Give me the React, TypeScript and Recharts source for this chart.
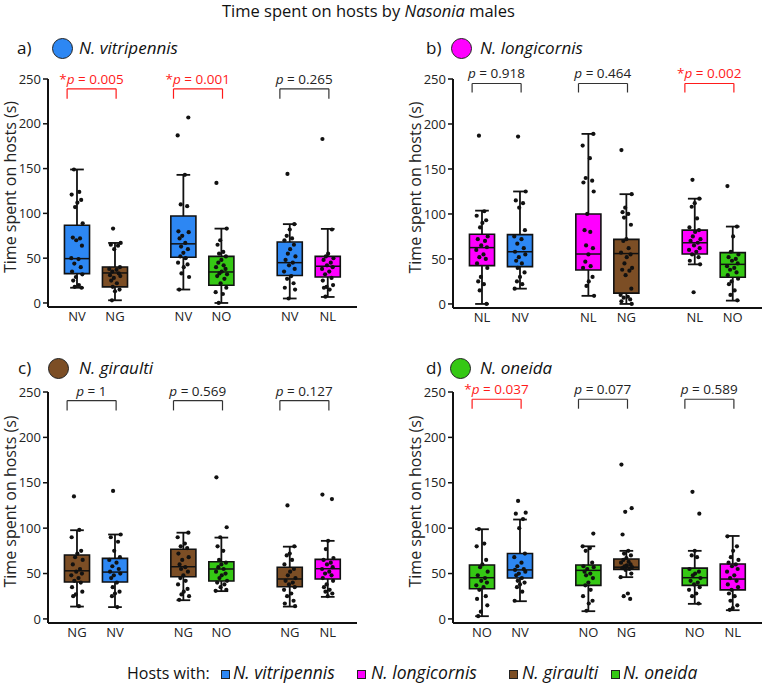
import React from "react";
import {
  ComposedChart,
  XAxis,
  YAxis,
  Scatter,
  ReferenceArea,
  ReferenceLine,
} from "recharts";

// host colours for boxes, header circles and legend squares
const HOST_COLORS: Record<string, string> = {
  NV: "#2d87f3",
  NL: "#ff00ff",
  NG: "#7c4e25",
  NO: "#35c814",
};

// box centres on the numeric x axis: three pairs
const POSITIONS = [0, 1, 2.8, 3.8, 5.6, 6.6];
const X_DOMAIN = [-0.763, 7.37];
const Y_DOMAIN = [-4.5, 250];
const Y_TICKS = [0, 50, 100, 150, 200, 250];

// fixed horizontal spread for the raw observations
const JITTER = [
  -0.08, 0.06, -0.14, 0.11, 0.01, -0.05, 0.15, -0.11, 0.08, -0.02, 0.13, -0.15,
  0.04, -0.07, 0.1, -0.13, 0.14, -0.03, -0.1, 0.05, -0.06, 0.12, 0.0,
];

// a) N. vitripennis males
const A_CATS = ["NV", "NG", "NV", "NO", "NV", "NL"];
// [low whisker, q1, median, q3, high whisker]
const A_STATS = [
  [17, 32.8, 49.5, 86.8, 149],
  [3, 18, 33.5, 40.2, 67],
  [15, 51, 66, 97, 143],
  [0, 19.7, 34.6, 52, 83],
  [5, 30.6, 45, 68, 88],
  [6.7, 29, 41, 52, 82.7],
];
const A_POINTS = [
  [149, 124, 121, 115, 112, 107, 89, 73, 72, 70, 64, 50, 49, 44, 40, 35, 32, 29, 25, 20, 18, 17],
  [83, 67, 65, 64, 60, 40, 38, 37, 35, 33, 31, 30, 28, 25, 22, 18, 15, 13, 3],
  [207, 187, 143, 110, 108, 80, 79, 75, 72, 67, 63, 60, 56, 52, 50, 45, 43, 40, 33, 29, 15],
  [134, 83, 70, 65, 57, 55, 52, 48, 45, 42, 40, 38, 35, 33, 32, 30, 27, 22, 17, 12, 10, 0],
  [144, 88, 82, 75, 72, 70, 65, 60, 55, 52, 48, 45, 42, 38, 35, 30, 27, 22, 17, 15, 5],
  [183, 82, 55, 52, 50, 48, 45, 42, 40, 38, 35, 32, 28, 25, 20, 18, 17, 15, 7],
];
const A_PVALUES = ["0.005", "0.001", "0.265"];
const A_SIG = [true, true, false];

// b) N. longicornis males
const B_CATS = ["NL", "NV", "NL", "NG", "NL", "NO"];
const B_STATS = [
  [0, 42.6, 62.6, 77.4, 103.7],
  [17, 41.5, 58, 77, 125],
  [9, 37.8, 55.5, 100, 189],
  [0, 12, 56, 71.8, 122],
  [44, 55.5, 68, 82, 117],
  [3.7, 29.6, 44, 57, 86],
];
const B_POINTS = [
  [187, 103, 98, 93, 90, 85, 75, 72, 70, 65, 63, 60, 55, 52, 50, 45, 40, 30, 25, 22, 15, 0],
  [186, 125, 115, 112, 107, 82, 75, 72, 67, 62, 58, 55, 52, 48, 45, 40, 35, 30, 25, 22, 17],
  [189, 176, 162, 140, 137, 135, 125, 100, 82, 80, 65, 62, 55, 47, 42, 40, 30, 25, 20, 9],
  [171, 122, 107, 102, 100, 96, 88, 72, 70, 62, 57, 55, 52, 45, 40, 38, 37, 32, 17, 10, 8, 7, 5, 3, 0],
  [138, 117, 112, 108, 95, 85, 82, 80, 75, 72, 70, 68, 65, 62, 60, 58, 55, 52, 48, 44, 13],
  [131, 86, 75, 58, 55, 52, 50, 48, 45, 42, 40, 38, 35, 32, 28, 25, 22, 15, 10, 4],
];
const B_PVALUES = ["0.918", "0.464", "0.002"];
const B_SIG = [false, false, true];

// c) N. giraulti males
const C_CATS = ["NG", "NV", "NG", "NO", "NG", "NL"];
const C_STATS = [
  [13.6, 40.6, 53, 70.4, 97.7],
  [13, 40.6, 51.6, 66.7, 93],
  [20.6, 46.5, 57.5, 76.7, 95],
  [30.6, 41.7, 55, 63, 89.6],
  [13.6, 35.4, 44, 57, 79.6],
  [24.3, 43.9, 55.3, 65.6, 86],
];
const C_POINTS = [
  [135, 98, 90, 75, 72, 68, 65, 60, 55, 52, 50, 48, 45, 42, 40, 35, 30, 27, 25, 14],
  [141, 93, 90, 85, 75, 68, 65, 62, 58, 55, 52, 50, 48, 45, 40, 35, 30, 28, 25, 13],
  [95, 90, 83, 80, 78, 72, 68, 65, 60, 57, 55, 52, 48, 45, 42, 38, 33, 30, 27, 25, 21],
  [156, 101, 90, 80, 75, 65, 62, 60, 57, 55, 52, 50, 48, 45, 42, 40, 38, 35, 32, 31],
  [125, 80, 72, 70, 65, 60, 55, 52, 48, 45, 42, 40, 38, 35, 32, 28, 25, 20, 17, 14],
  [137, 132, 86, 77, 67, 65, 62, 60, 57, 55, 52, 50, 48, 45, 42, 38, 35, 32, 30, 28, 25],
];
const C_PVALUES = ["1", "0.569", "0.127"];
const C_SIG = [false, false, false];

// d) N. oneida males
const D_CATS = ["NO", "NV", "NO", "NG", "NO", "NL"];
const D_STATS = [
  [3, 33.2, 45.4, 59.4, 98.8],
  [19.5, 45, 54, 72, 109.5],
  [8.5, 37, 53.5, 59.4, 80],
  [46, 54.6, 57, 66, 75],
  [16.6, 37, 45.4, 56, 75],
  [9.6, 32, 43.9, 60.5, 91.4],
];
const D_POINTS = [
  [99, 83, 80, 65, 60, 57, 52, 48, 45, 42, 40, 37, 35, 32, 25, 22, 15, 8, 3],
  [130, 117, 116, 110, 100, 72, 68, 62, 58, 55, 54, 52, 50, 48, 45, 42, 40, 38, 35, 30, 20],
  [94, 80, 78, 75, 62, 58, 57, 55, 52, 50, 48, 45, 40, 37, 32, 25, 20, 17, 9],
  [170, 122, 118, 93, 75, 72, 70, 67, 65, 63, 62, 60, 59, 58, 57, 56, 55, 54, 50, 46, 28, 25, 22],
  [140, 116, 75, 70, 68, 55, 52, 50, 48, 45, 42, 40, 38, 35, 32, 28, 25, 17],
  [91, 80, 75, 68, 65, 62, 60, 58, 55, 52, 48, 45, 42, 38, 35, 32, 28, 25, 20, 15, 12, 10],
];
const D_PVALUES = ["0.037", "0.077", "0.589"];
const D_SIG = [true, false, false];

const LEGEND = [
  { key: "NV", name: "N. vitripennis", sq: 221, text: 233 },
  { key: "NL", name: "N. longicornis", sq: 357, text: 371 },
  { key: "NG", name: "N. giraulti", sq: 509, text: 522 },
  { key: "NO", name: "N. oneida", sq: 611, text: 623 },
];

const FONT = "'Open Sans', 'DejaVu Sans', sans-serif";
const INK = "#111";
const RED = "#ff1a1a";
const HALF_BOX = 0.33;
const HALF_CAP = 0.18;

const Dot = (p: any) => <circle cx={p.cx} cy={p.cy} r={2.1} fill={INK} />;

const PLabel = (p: any) => {
  const d = p.payload;
  return (
    <text
      x={p.cx}
      y={p.cy - 5}
      textAnchor="middle"
      fontSize={13.5}
      fill={d.sig ? RED : "#222"}
    >
      {d.sig ? "*" : ""}
      <tspan fontStyle="italic">p</tspan>
      {` = ${d.p}`}
    </text>
  );
};

const yLabel = (props: any) => {
  const vb = props.viewBox || {};
  const cx = (vb.x ?? 0) + 10;
  const cy = (vb.y ?? 0) + (vb.height ?? 0) / 2 - 6;
  return (
    <text
      x={cx}
      y={cy}
      transform={`rotate(-90 ${cx} ${cy})`}
      textAnchor="middle"
      dominantBaseline="central"
      fontSize={16}
      fill="#222"
    >
      Time spent on hosts (s)
    </text>
  );
};

interface PanelProps {
  cats: string[];
  stats: number[][];
  points: number[][];
  pvalues: string[];
  sig: boolean[];
  bracketTop: number;
  bracketLeg: number;
  left: number;
  top: number;
  width: number;
  plotHeight: number;
}

function Panel({
  cats,
  stats,
  points,
  pvalues,
  sig,
  bracketTop,
  bracketLeg,
  left,
  top,
  width,
  plotHeight,
}: PanelProps) {
  const dots = points.flatMap((vals, i) =>
    vals.map((v, j) => ({
      x: POSITIONS[i] + JITTER[(j + i * 5) % JITTER.length],
      y: v,
    }))
  );
  const labels = pvalues.map((p, k) => ({
    x: POSITIONS[2 * k] + 0.38,
    y: bracketTop,
    p,
    sig: sig[k],
  }));

  return (
    <div style={{ position: "absolute", left, top }}>
      <ComposedChart
        width={width}
        height={19 + plotHeight + 25}
        margin={{ top: 19, right: width - 48 - 309, bottom: 0, left: 0 }}
      >
        <XAxis
          type="number"
          dataKey="x"
          domain={X_DOMAIN}
          ticks={POSITIONS}
          interval={0}
          height={25}
          tickLine={false}
          tickSize={3}
          tickMargin={2}
          tickFormatter={(v: number) => cats[POSITIONS.indexOf(v)] ?? ""}
          tick={{ fill: "#222", fontSize: 13 }}
          axisLine={{ stroke: INK, strokeWidth: 2 }}
        />
        <YAxis
          type="number"
          dataKey="y"
          domain={Y_DOMAIN}
          ticks={Y_TICKS}
          interval={0}
          width={48}
          tickSize={5}
          tickMargin={2}
          tick={{ fill: "#222", fontSize: 13 }}
          tickLine={{ stroke: INK, strokeWidth: 1.5 }}
          axisLine={{ stroke: INK, strokeWidth: 2 }}
          label={yLabel}
        />

        {/* whiskers with caps */}
        {stats.map(([lo, q1, , q3, hi], i) => {
          const x = POSITIONS[i];
          return [
            <ReferenceLine key={`wl${i}`} segment={[{ x, y: lo }, { x, y: q1 }]} stroke={INK} strokeWidth={1.8} />,
            <ReferenceLine key={`wh${i}`} segment={[{ x, y: q3 }, { x, y: hi }]} stroke={INK} strokeWidth={1.8} />,
            <ReferenceLine key={`cl${i}`} segment={[{ x: x - HALF_CAP, y: lo }, { x: x + HALF_CAP, y: lo }]} stroke={INK} strokeWidth={1.8} />,
            <ReferenceLine key={`ch${i}`} segment={[{ x: x - HALF_CAP, y: hi }, { x: x + HALF_CAP, y: hi }]} stroke={INK} strokeWidth={1.8} />,
          ];
        })}

        {/* boxes */}
        {stats.map(([, q1, , q3], i) => (
          <ReferenceArea
            key={`box${i}`}
            x1={POSITIONS[i] - HALF_BOX}
            x2={POSITIONS[i] + HALF_BOX}
            y1={q1}
            y2={q3}
            fill={HOST_COLORS[cats[i]]}
            fillOpacity={1}
            stroke={INK}
            strokeWidth={1.6}
          />
        ))}

        {/* medians */}
        {stats.map(([, , med], i) => (
          <ReferenceLine
            key={`med${i}`}
            segment={[
              { x: POSITIONS[i] - HALF_BOX, y: med },
              { x: POSITIONS[i] + HALF_BOX, y: med },
            ]}
            stroke={INK}
            strokeWidth={1.5}
          />
        ))}

        {/* comparison brackets */}
        {pvalues.map((_, k) => {
          const x1 = POSITIONS[2 * k] - 0.26;
          const x2 = POSITIONS[2 * k + 1] + 0.03;
          const c = sig[k] ? RED : "#333";
          return [
            <ReferenceLine key={`bt${k}`} segment={[{ x: x1, y: bracketTop }, { x: x2, y: bracketTop }]} stroke={c} strokeWidth={1.2} />,
            <ReferenceLine key={`bl${k}`} segment={[{ x: x1, y: bracketTop }, { x: x1, y: bracketLeg }]} stroke={c} strokeWidth={1.2} />,
            <ReferenceLine key={`br${k}`} segment={[{ x: x2, y: bracketTop }, { x: x2, y: bracketLeg }]} stroke={c} strokeWidth={1.2} />,
          ];
        })}

        <Scatter data={dots} shape={Dot} isAnimationActive={false} />
        <Scatter data={labels} shape={PLabel} isAnimationActive={false} />
      </ComposedChart>
    </div>
  );
}

function Header({ tag, name, color, x, circleX, nameX, y }: any) {
  return (
    <>
      <div style={{ position: "absolute", left: x, top: y - 10, fontSize: 17, lineHeight: "20px", color: "#111" }}>
        {tag}
      </div>
      <div
        style={{
          position: "absolute",
          left: circleX - 10.5,
          top: y - 10.5,
          width: 21,
          height: 21,
          borderRadius: "50%",
          background: color,
          border: "1px solid #222",
          boxSizing: "border-box",
        }}
      />
      <div
        style={{
          position: "absolute",
          left: nameX,
          top: y - 10,
          fontSize: 17,
          lineHeight: "20px",
          fontStyle: "italic",
          color: "#111",
        }}
      >
        {name}
      </div>
    </>
  );
}

export default function App() {
  return (
    <div
      style={{
        position: "absolute",
        left: 0,
        top: 0,
        width: 762,
        height: 685,
        background: "#fff",
        fontFamily: FONT,
        overflow: "hidden",
      }}
    >
      <div style={{ position: "absolute", left: 222, top: 2, fontSize: 16.5, lineHeight: "17px", color: "#111" }}>
        Time spent on hosts by <i>Nasonia</i> males
      </div>

      <Header tag="a)" name="N. vitripennis" color={HOST_COLORS.NV} x={17} circleX={62.5} nameX={79} y={48} />
      <Header tag="b)" name="N. longicornis" color={HOST_COLORS.NL} x={426} circleX={461.5} nameX={480} y={48} />
      <Header tag="c)" name="N. giraulti" color={HOST_COLORS.NG} x={18} circleX={58} nameX={79} y={368} />
      <Header tag="d)" name="N. oneida" color={HOST_COLORS.NO} x={426} circleX={460} nameX={480} y={368} />

      <Panel cats={A_CATS} stats={A_STATS} points={A_POINTS} pvalues={A_PVALUES} sig={A_SIG}
        bracketTop={239} bracketLeg={228} left={0} top={60} width={362} plotHeight={228} />
      <Panel cats={B_CATS} stats={B_STATS} points={B_POINTS} pvalues={B_PVALUES} sig={B_SIG}
        bracketTop={245} bracketLeg={235} left={405} top={60} width={357} plotHeight={229} />
      <Panel cats={C_CATS} stats={C_STATS} points={C_POINTS} pvalues={C_PVALUES} sig={C_SIG}
        bracketTop={240.5} bracketLeg={229.7} left={0} top={373} width={362} plotHeight={231} />
      <Panel cats={D_CATS} stats={D_STATS} points={D_POINTS} pvalues={D_PVALUES} sig={D_SIG}
        bracketTop={242} bracketLeg={231.6} left={405} top={373} width={357} plotHeight={231} />

      {/* shared legend */}
      <div style={{ position: "absolute", left: 127, top: 663, fontSize: 16, lineHeight: "20px", color: "#111" }}>
        Hosts with:
      </div>
      {LEGEND.map((l) => (
        <React.Fragment key={l.key}>
          <div
            style={{
              position: "absolute",
              left: l.sq,
              top: 670,
              width: 9,
              height: 9,
              background: HOST_COLORS[l.key],
              border: "1px solid #222",
              boxSizing: "border-box",
            }}
          />
          <div
            style={{
              position: "absolute",
              left: l.text,
              top: 662,
              fontSize: 17.5,
              lineHeight: "20px",
              paddingRight: 3,
              fontStyle: "italic",
              color: "#111",
            }}
          >
            {l.name}
          </div>
        </React.Fragment>
      ))}
    </div>
  );
}
